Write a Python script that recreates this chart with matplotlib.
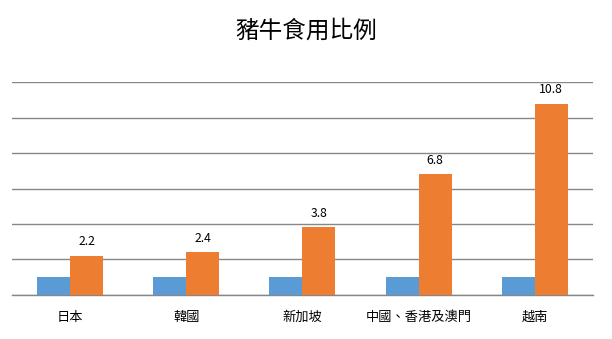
import matplotlib
matplotlib.use("Agg")
import matplotlib.pyplot as plt
import numpy as np

plt.rcParams['font.family'] = ['Noto Sans CJK TC', 'DejaVu Sans']

categories = ["日本", "韓國", "新加坡", "中國、香港及澳門", "越南"]
pork_base = [1, 1, 1, 1, 1]
ratio = [2.2, 2.4, 3.8, 6.8, 10.8]
ratio_labels = ["2.2", "2.4", "3.8", "6.8", "10.8"]
title = "豬牛食用比例"

fig = plt.figure(figsize=(6.12, 3.39), dpi=100)
ax = fig.add_axes([0.0196, 0.1307, 0.949, 0.6263])

x = np.arange(len(categories))
w = 0.284
ax.bar(x - w/2, pork_base, width=w, color="#5B9BD5", zorder=3)
bars = ax.bar(x + w/2, ratio, width=w, color="#ED7D31", zorder=3)
for b, lab in zip(bars, ratio_labels):
    ax.annotate(lab, (b.get_x() + b.get_width()/2, b.get_height()),
                xytext=(0, 5.5), textcoords="offset points",
                ha="center", va="bottom", fontsize=8.8, color="#000000")

ax.set_xlim(-0.5, len(categories) - 0.5)
ax.set_ylim(0, 12)
ax.set_yticks(np.arange(0, 13, 2))
ax.yaxis.grid(True, color="#878787", linewidth=1.0, zorder=0)
ax.tick_params(axis="y", left=False, labelleft=False)
ax.tick_params(axis="x", length=0, pad=11.5, labelsize=9.5)
ax.set_xticks(x)
ax.set_xticklabels(categories)
for s in ["top", "right", "left"]:
    ax.spines[s].set_visible(False)
ax.spines["bottom"].set_color("#878787")
ax.spines["bottom"].set_linewidth(1.0)

fig.text(0.5, 1 - 31/339, title, ha="center", va="center", fontsize=17, color="#000000")

fig.savefig("out.png", dpi=100)
